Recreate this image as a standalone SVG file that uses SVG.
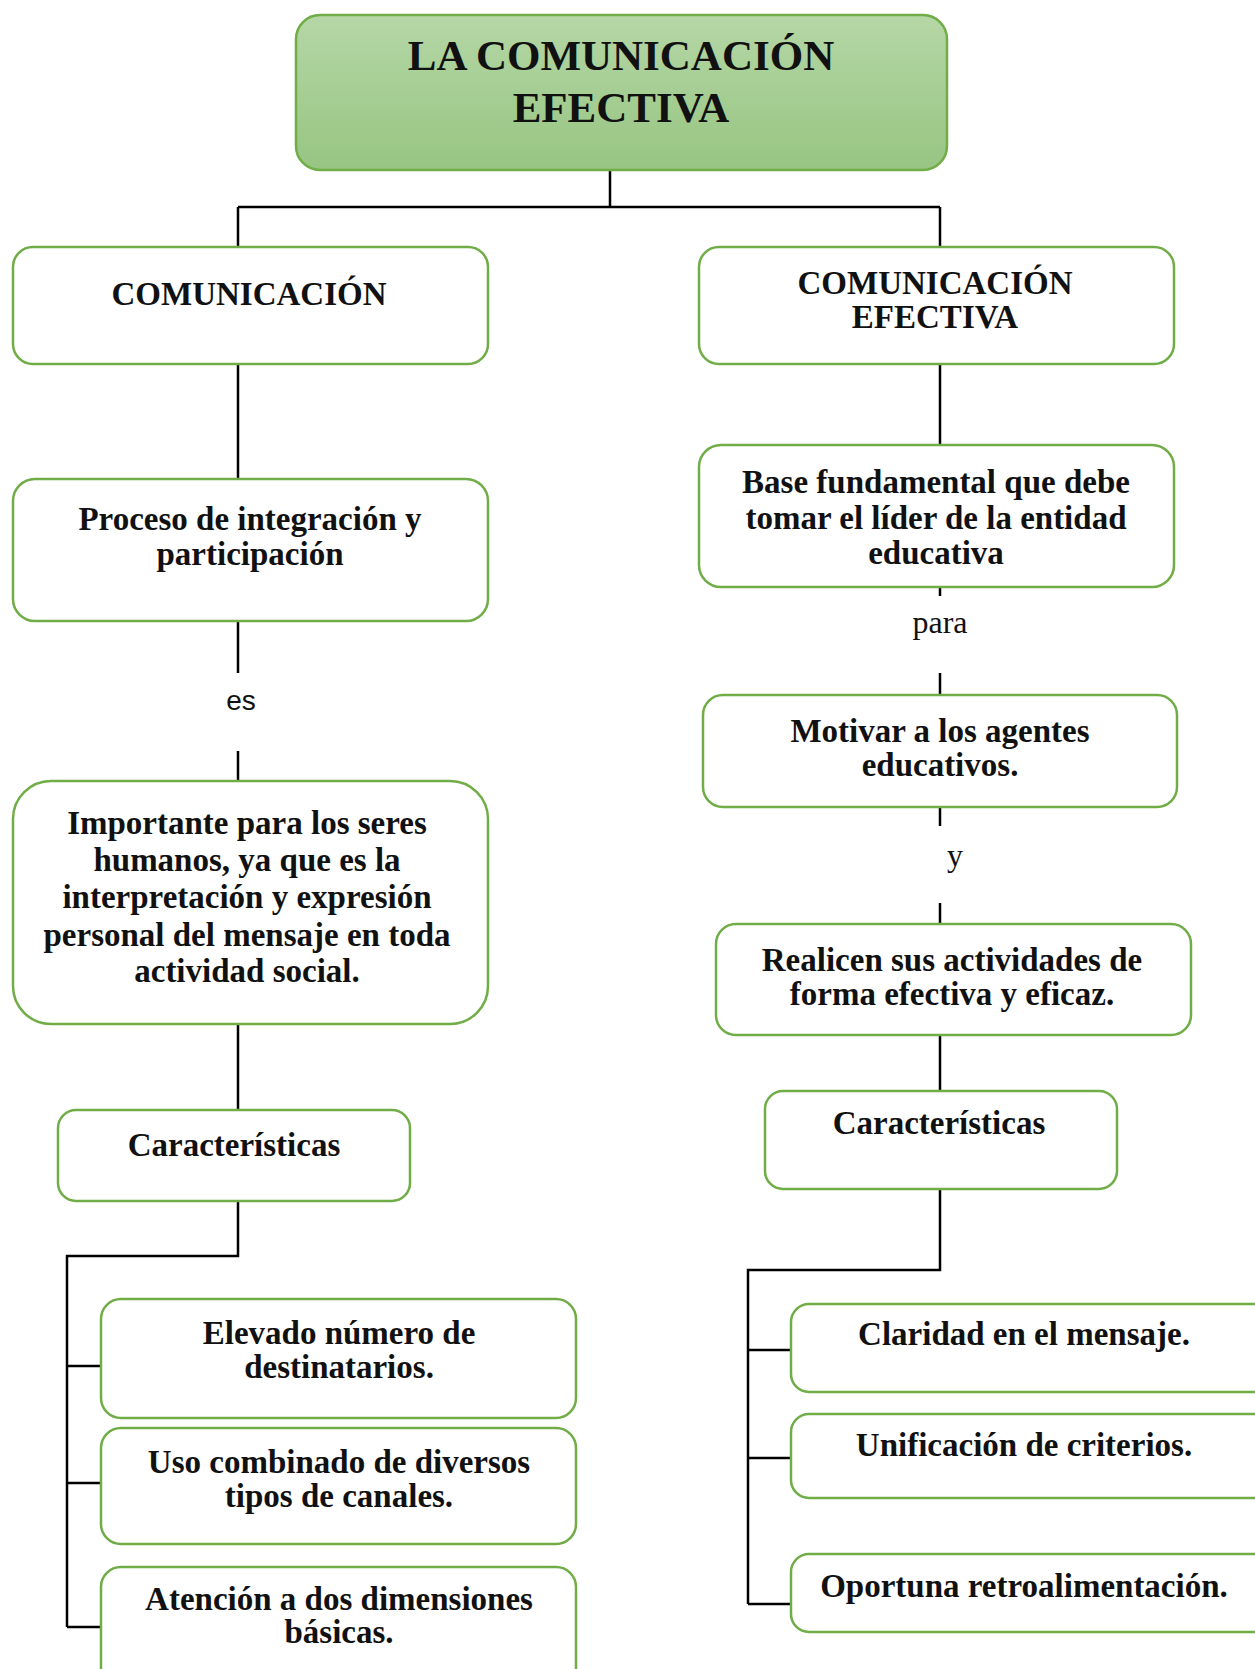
<svg xmlns="http://www.w3.org/2000/svg" width="1255" height="1669" viewBox="0 0 1255 1669">
<defs>
<linearGradient id="g" x1="0" y1="0" x2="0" y2="1">
<stop offset="0" stop-color="#b5d7a6"/>
<stop offset="1" stop-color="#97c582"/>
</linearGradient>
<style>
.box{fill:#fff;stroke:#70ad47;stroke-width:2.5}
.top{fill:url(#g);stroke:#70ad47;stroke-width:2.5}
.t{font-family:"Liberation Serif","Times New Roman",serif;font-weight:bold;font-size:33px;fill:#111;text-anchor:middle}
.title{font-family:"Liberation Serif","Times New Roman",serif;font-weight:bold;font-size:43px;fill:#111;text-anchor:middle}
.lbl{font-family:"Liberation Serif","Times New Roman",serif;font-size:32px;fill:#111;text-anchor:middle}
.lbls{font-family:"Liberation Sans",Arial,sans-serif;font-size:28px;fill:#111;text-anchor:middle}
.c{stroke:#000;stroke-width:2.5;fill:none}
</style>
</defs>
<rect width="1255" height="1669" fill="#fff"/>
<g id="connectors">
<path class="c" d="M610 170V207M238 207H940M238 207V247M940 207V247"/>
<path class="c" d="M238 364V479M238 621V673M238 751V781M238 1024V1110M238 1201V1256H67V1627M67 1366H101M67 1483H101M67 1627H101"/>
<path class="c" d="M940 364V445M940 587V596M940 673V695M940 807V826M940 903V924M940 1035V1091M940 1189V1270H748V1604M748 1350H791M748 1458H791M748 1604H791"/>
<text class="lbls" x="241" y="710">es</text>
<text class="lbl" x="940" y="633">para</text>
<text class="lbl" x="955" y="866">y</text>
</g>
<g id="n-title">
<rect class="top" x="296" y="15" width="651" height="155" rx="24"/>
<text class="title" x="621" y="70">LA COMUNICACIÓN</text>
<text class="title" x="621" y="122">EFECTIVA</text>
</g>
<g id="n-comunicacion">
<rect class="box" x="13" y="247" width="475" height="117" rx="20"/>
<text class="t" x="249" y="305">COMUNICACIÓN</text>
</g>
<g id="n-comefectiva">
<rect class="box" x="699" y="247" width="475" height="117" rx="20"/>
<text class="t" x="935" y="294">COMUNICACIÓN</text>
<text class="t" x="935" y="328">EFECTIVA</text>
</g>
<g id="n-proceso">
<rect class="box" x="13" y="479" width="475" height="142" rx="22"/>
<text class="t" x="250" y="530">Proceso de integración y</text>
<text class="t" x="250" y="565">participación</text>
</g>
<g id="n-importante">
<rect class="box" x="13" y="781" width="475" height="243" rx="38"/>
<text class="t" x="247" y="834">Importante para los seres</text>
<text class="t" x="247" y="871">humanos, ya que es la</text>
<text class="t" x="247" y="908">interpretación y expresión</text>
<text class="t" x="247" y="946">personal del mensaje en toda</text>
<text class="t" x="247" y="982">actividad social.</text>
</g>
<g id="n-caract-l">
<rect class="box" x="58" y="1110" width="352" height="91" rx="18"/>
<text class="t" x="234" y="1156">Características</text>
</g>
<g id="n-elevado">
<rect class="box" x="101" y="1299" width="475" height="119" rx="20"/>
<text class="t" x="339" y="1344">Elevado número de</text>
<text class="t" x="339" y="1378">destinatarios.</text>
</g>
<g id="n-uso">
<rect class="box" x="101" y="1428" width="475" height="116" rx="20"/>
<text class="t" x="339" y="1473">Uso combinado de diversos</text>
<text class="t" x="339" y="1507">tipos de canales.</text>
</g>
<g id="n-atencion">
<rect class="box" x="101" y="1567" width="475" height="130" rx="20"/>
<text class="t" x="339" y="1610">Atención a dos dimensiones</text>
<text class="t" x="339" y="1643">básicas.</text>
</g>
<g id="n-base">
<rect class="box" x="699" y="445" width="475" height="142" rx="22"/>
<text class="t" x="936" y="493">Base fundamental que debe</text>
<text class="t" x="936" y="529">tomar el líder de la entidad</text>
<text class="t" x="936" y="564">educativa</text>
</g>
<g id="n-motivar">
<rect class="box" x="703" y="695" width="474" height="112" rx="20"/>
<text class="t" x="940" y="742">Motivar a los agentes</text>
<text class="t" x="940" y="776">educativos.</text>
</g>
<g id="n-realicen">
<rect class="box" x="716" y="924" width="475" height="111" rx="20"/>
<text class="t" x="952" y="971">Realicen sus actividades de</text>
<text class="t" x="952" y="1005">forma efectiva y eficaz.</text>
</g>
<g id="n-caract-r">
<rect class="box" x="765" y="1091" width="352" height="98" rx="18"/>
<text class="t" x="939" y="1134">Características</text>
</g>
<g id="n-claridad">
<rect class="box" x="791" y="1304" width="480" height="88" rx="18"/>
<text class="t" x="1024" y="1345">Claridad en el mensaje.</text>
</g>
<g id="n-unificacion">
<rect class="box" x="791" y="1414" width="480" height="84" rx="18"/>
<text class="t" x="1024" y="1456">Unificación de criterios.</text>
</g>
<g id="n-oportuna">
<rect class="box" x="791" y="1554" width="480" height="78" rx="18"/>
<text class="t" x="1024" y="1597">Oportuna retroalimentación.</text>
</g>
</svg>
